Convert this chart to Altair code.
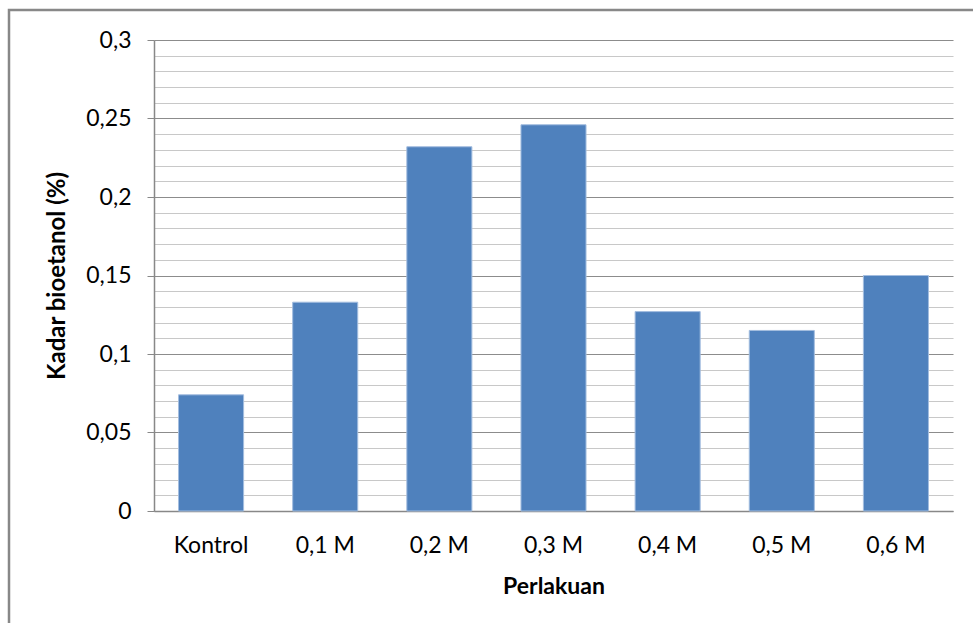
import altair as alt
import pandas as pd

categories = ["Kontrol", "0,1 M", "0,2 M", "0,3 M", "0,4 M", "0,5 M", "0,6 M"]
values = [0.074, 0.133, 0.232, 0.246, 0.127, 0.115, 0.150]
major_ticks = [0, 0.05, 0.1, 0.15, 0.2, 0.25, 0.3]
minor_ticks = [round(i * 0.01, 2) for i in range(31) if i % 5 != 0]

df = pd.DataFrame({"Perlakuan": categories, "Kadar": values})
FONT = "Lato"

yscale = alt.Scale(domain=[0, 0.3], nice=False, zero=True)
xscale = alt.Scale(paddingInner=0.43, paddingOuter=0.215)

x_axis = alt.Axis(
    title="Perlakuan", labelAngle=0, ticks=False, domainColor="#888888",
    domainWidth=1.5, labelFont=FONT, labelFontSize=23, labelColor="#000000",
    labelPadding=23, titleFont=FONT, titleFontSize=23, titleFontWeight="bold",
    titleColor="#000000", titlePadding=18, grid=False,
)

minor = alt.Chart(df).mark_bar(opacity=0).encode(
    x=alt.X("Perlakuan:N", sort=categories, scale=xscale, axis=x_axis),
    y=alt.Y("Kadar:Q", scale=yscale,
            axis=alt.Axis(orient="left", values=minor_ticks, grid=True,
                          gridColor="#c8c8c8", gridWidth=1.2, labels=False,
                          ticks=False, domain=False, title=None)),
)

bars = alt.Chart(df).mark_bar(color="#4F81BD", stroke="#a3bddf", strokeWidth=1).encode(
    x=alt.X("Perlakuan:N", sort=categories, scale=xscale, axis=x_axis),
    y=alt.Y("Kadar:Q", scale=yscale,
            axis=alt.Axis(orient="left", values=major_ticks, grid=True,
                          gridColor="#8c8c8c", gridWidth=1.2,
                          labelExpr="replace(format(datum.value, '.2~f'), '.', ',')",
                          labelFont=FONT, labelFontSize=23, labelColor="#000000",
                          labelPadding=16, tickSize=7, tickColor="#888888",
                          domainColor="#888888", domainWidth=1.5,
                          title="Kadar bioetanol (%)", titleFont=FONT,
                          titleFontSize=24, titleFontWeight="bold",
                          titleColor="#000000", titlePadding=16)),
)

frame = alt.Chart(pd.DataFrame({"f": [0]})).mark_rect(
    fillOpacity=0, stroke="#888888", strokeWidth=2.5
).encode(
    x=alt.value(-145), x2=alt.value(900), y=alt.value(-30), y2=alt.value(700)
)

chart = alt.layer(minor, bars, frame).resolve_axis(y="independent").properties(
    width=799, height=471,
    autosize=alt.AutoSizeParams(type="none"),
    padding={"left": 154, "top": 40, "right": 20, "bottom": 112},
    background="white",
).configure_view(stroke=None)

chart.save("out.html", embed_options={"renderer": "svg", "actions": False})
